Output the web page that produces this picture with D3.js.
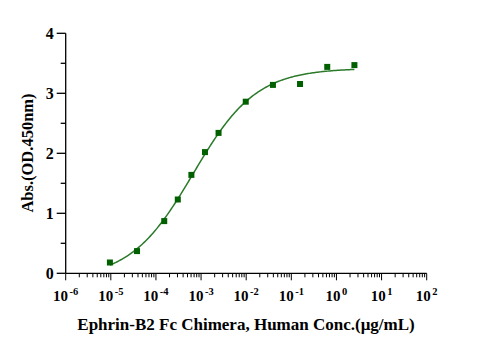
<!DOCTYPE html>
<html><head><meta charset="utf-8">
<script src="https://cdn.jsdelivr.net/npm/d3@7"></script>
<style>body{margin:0;background:#fff}svg{display:block}</style>
</head><body><svg id="c" width="477" height="351"></svg>
<script>
const conc = [9.54e-6, 3.81e-5, 1.526e-4, 3.05e-4, 6.1e-4, 1.22e-3, 2.44e-3, 9.77e-3, 0.0391, 0.156, 0.625, 2.5];
const absorb = [0.18, 0.37, 0.87, 1.23, 1.64, 2.02, 2.34, 2.86, 3.14, 3.155, 3.44, 3.47];
const xTickExps = [-6, -5, -4, -3, -2, -1, 0, 1, 2];
const yTicks = [0, 1, 2, 3, 4];
const xTitle = "Ephrin-B2 Fc Chimera, Human Conc.(μg/mL)";
const yTitle = "Abs.(OD.450nm)";

const svg = d3.select("#c");
const x = d3.scaleLog().domain([1e-6, 1e2]).range([65.7, 426.7]);
const y = d3.scaleLinear().domain([0, 4]).range([273.3, 33.3]);
const font = "'Liberation Serif','Times New Roman',serif";

// 4PL fit (Nelder-Mead) in log space
function model(p, lx){ return p[0] + (p[1]-p[0])/(1+Math.pow(10,(p[2]-lx)*p[3])); }
function sse(p){ let s=0; conc.forEach((c,i)=>{const r=model(p,Math.log10(c))-absorb[i]; s+=r*r;}); return s; }
function nelder(f, x0){
  const n=x0.length; let pts=[x0.slice()];
  for(let i=0;i<n;i++){const p=x0.slice(); p[i]+= (Math.abs(p[i])*0.1||0.1); pts.push(p);}
  let vals=pts.map(f);
  for(let it=0;it<4000;it++){
    const idx=d3.range(n+1).sort((a,b)=>vals[a]-vals[b]); pts=idx.map(i=>pts[i]); vals=idx.map(i=>vals[i]);
    const cen=d3.range(n).map(j=>d3.mean(pts.slice(0,n),p=>p[j]));
    const w=pts[n];
    const xr=cen.map((c,j)=>c+(c-w[j])); const fr=f(xr);
    if(fr<vals[0]){const xe=cen.map((c,j)=>c+2*(c-w[j])); const fe=f(xe); if(fe<fr){pts[n]=xe;vals[n]=fe;}else{pts[n]=xr;vals[n]=fr;}}
    else if(fr<vals[n-1]){pts[n]=xr;vals[n]=fr;}
    else{const xc=cen.map((c,j)=>c+0.5*(w[j]-c)); const fc=f(xc);
      if(fc<vals[n]){pts[n]=xc;vals[n]=fc;}
      else{for(let i=1;i<=n;i++){pts[i]=pts[i].map((v,j)=>pts[0][j]+0.5*(v-pts[0][j])); vals[i]=f(pts[i]);}}}
  }
  return pts[0];
}
const par = nelder(sse, [0.05, 3.42, -3.17, 0.65]);

// Curve
const l0=Math.log10(d3.min(conc)), l1=Math.log10(d3.max(conc));
const curve = d3.range(0,201).map(i=>{const lx=l0+(l1-l0)*i/200; return [Math.pow(10,lx), model(par,lx)];});
svg.append("path").datum(curve)
  .attr("d", d3.line().x(d=>x(d[0])).y(d=>y(d[1])))
  .attr("fill","none").attr("stroke","#2a7a2a").attr("stroke-width",1.5);

// Points
svg.selectAll("rect.pt").data(conc.map((c,i)=>[c,absorb[i]])).enter().append("rect")
  .attr("class","pt").attr("x",d=>x(d[0])-3).attr("y",d=>y(d[1])-3)
  .attr("width",6).attr("height",6).attr("fill","#006000");

// Y axis
const ya = svg.append("g").attr("transform","translate(65.7,0)");
ya.append("line").attr("y1",y(4)).attr("y2",y(0)).attr("stroke","#000").attr("stroke-width",1.3);
const yMinor = d3.range(0,4.01,0.5);
ya.selectAll("line.t").data(yMinor).enter().append("line")
  .attr("x1",d=> (d%1===0)? -9 : -5).attr("x2",0).attr("y1",d=>y(d)).attr("y2",d=>y(d))
  .attr("stroke","#000").attr("stroke-width",1.3);
ya.selectAll("text").data(yTicks).enter().append("text")
  .attr("x",-12).attr("y",d=>y(d)).attr("dy","0.35em").attr("text-anchor","end")
  .attr("font-family",font).attr("font-weight","bold").attr("font-size",16).text(d=>d);

// X axis
const xa = svg.append("g").attr("transform","translate(0,273.3)");
xa.append("line").attr("x1",x(1e-6)).attr("x2",x(1e2)).attr("stroke","#000").attr("stroke-width",1.3);
const xt=[];
xTickExps.forEach(e=>{ xt.push({v:Math.pow(10,e),major:true}); if(e<2) for(let m=2;m<=9;m++) xt.push({v:m*Math.pow(10,e),major:false}); });
xa.selectAll("line.t").data(xt).enter().append("line")
  .attr("x1",d=>x(d.v)).attr("x2",d=>x(d.v)).attr("y1",0).attr("y2",d=>d.major?7:4)
  .attr("stroke","#000").attr("stroke-width",1);
const lab = xa.selectAll("text").data(xTickExps).enter().append("text")
  .attr("x",d=>x(Math.pow(10,d))).attr("y",28).attr("text-anchor","middle")
  .attr("font-family",font).attr("font-weight","bold").attr("font-size",15);
lab.append("tspan").text("10");
lab.append("tspan").attr("dy",-6.5).attr("font-size",10.5).attr("dx",1.5).text(d=>d<0?"-"+(-d):""+d);

// Titles
svg.append("text").attr("x",246).attr("y",330).attr("text-anchor","middle")
  .attr("font-family",font).attr("font-weight","bold").attr("font-size",17).text(xTitle);
svg.append("text").attr("transform","translate(33,153) rotate(-90)").attr("text-anchor","middle")
  .attr("font-family",font).attr("font-weight","bold").attr("font-size",16.5).text(yTitle);
</script></body></html>
